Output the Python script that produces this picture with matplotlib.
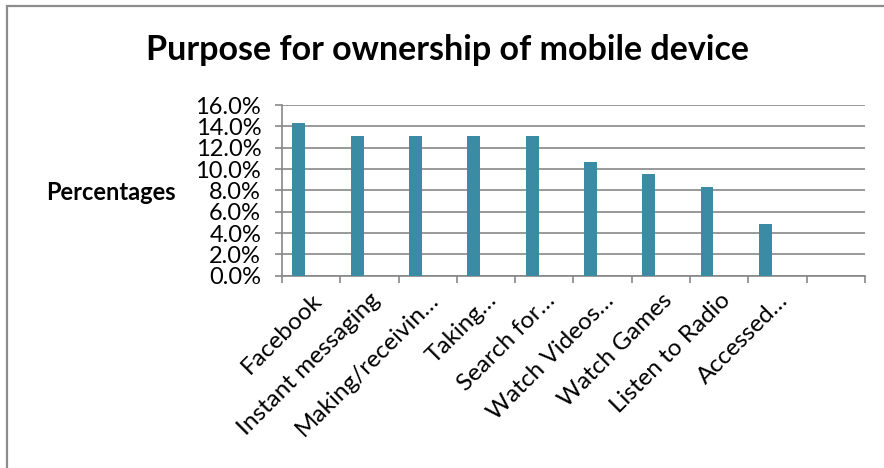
import matplotlib

matplotlib.use("Agg")
import matplotlib.pyplot as plt
import numpy as np
from matplotlib.patches import Rectangle
from matplotlib.ticker import FixedLocator, PercentFormatter

categories = [
    "Facebook",
    "Instant messaging",
    "Making/receivin\u2026",
    "Taking\u2026",
    "Search for\u2026",
    "Watch Videos\u2026",
    "Watch Games",
    "Listen to Radio",
    "Accessed\u2026",
    "",
]
shares = [14.3, 13.1, 13.1, 13.1, 13.1, 10.7, 9.5, 8.3, 4.8, 0.0]
y_ticks = [0, 2, 4, 6, 8, 10, 12, 14, 16]

plt.rcParams["font.family"] = ["Lato", "DejaVu Sans"]
grey = "#878787"
bar_color = "#3C8BA5"

fig = plt.figure(figsize=(8.84, 4.68), dpi=100)
ax = fig.add_axes([0.319, 0.411, 0.6595, 0.3645])

n = len(categories)
centers = np.arange(n) + 0.5
ax.bar(centers - 0.21, shares, width=0.22, color=bar_color, zorder=3)

ax.set_xlim(0, n)
ax.set_ylim(0, 16)
ax.set_yticks(y_ticks)
ax.yaxis.set_major_formatter(PercentFormatter(decimals=1))
ax.grid(axis="y", color=grey, linewidth=1.2, zorder=0)

# boundaries carry the tick marks, centres carry the labels
ax.xaxis.set_major_locator(FixedLocator(np.arange(n + 1)))
ax.xaxis.set_minor_locator(FixedLocator(centers))
ax.set_xticklabels([""] * (n + 1))
ax.set_xticklabels(categories, minor=True, rotation=45, ha="right",
                   rotation_mode="anchor", fontsize=17.5)
ax.tick_params(axis="x", which="major", length=5, color=grey, width=1.2)
ax.tick_params(axis="x", which="minor", length=0, pad=10)
ax.tick_params(axis="y", length=5, color=grey, width=1.2, labelsize=17, pad=10)

for side in ["top", "right"]:
    ax.spines[side].set_visible(False)
for side in ["left", "bottom"]:
    ax.spines[side].set_color(grey)
    ax.spines[side].set_linewidth(1.2)

fig.text(0.506, 0.893, "Purpose for ownership of mobile device",
         ha="center", va="center", fontsize=24.5, fontweight="bold")
fig.text(0.125, 0.588, "Percentages", ha="center", va="center",
         fontsize=17, fontweight="bold")

fig.add_artist(Rectangle((7 / 884, -0.1), 1.2, 1.1 - 6 / 468,
                         transform=fig.transFigure, fill=False,
                         edgecolor="#8C8C8C", linewidth=1.6))

fig.savefig("out.png", dpi=100)
plt.close(fig)
